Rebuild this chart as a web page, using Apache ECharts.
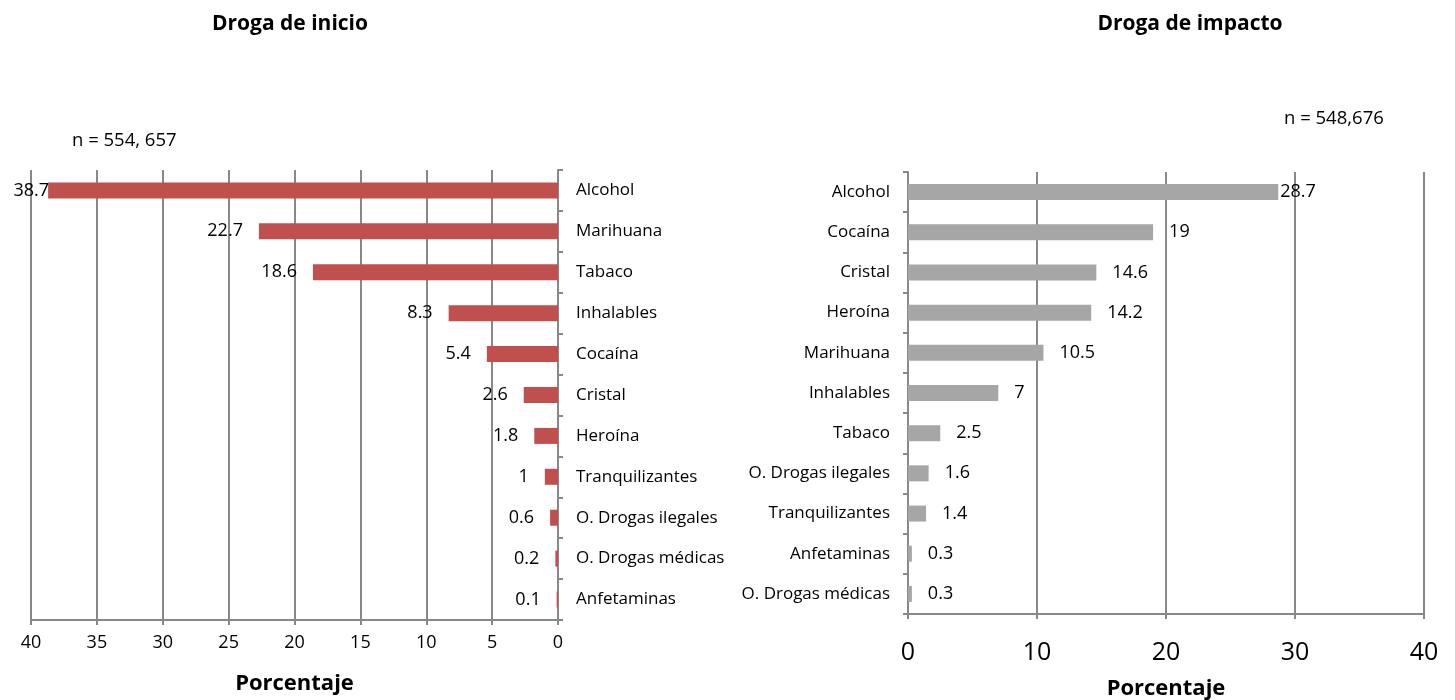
<!DOCTYPE html>
<html>
<head>
<meta charset="utf-8">
<script src="https://cdn.jsdelivr.net/npm/echarts@6/dist/echarts.min.js"></script>
<style>
html,body{margin:0;padding:0;background:#fff;}
#main{width:1455px;height:700px;}
</style>
</head>
<body>
<div id="main"></div>
<script>
const catsInicio = ['Alcohol','Marihuana','Tabaco','Inhalables','Cocaína','Cristal','Heroína','Tranquilizantes','O. Drogas ilegales','O. Drogas médicas','Anfetaminas'];
const valsInicio = [38.7, 22.7, 18.6, 8.3, 5.4, 2.6, 1.8, 1, 0.6, 0.2, 0.1];
const catsImpacto = ['Alcohol','Cocaína','Cristal','Heroína','Marihuana','Inhalables','Tabaco','O. Drogas ilegales','Tranquilizantes','Anfetaminas','O. Drogas médicas'];
const valsImpacto = [28.7, 19, 14.6, 14.2, 10.5, 7, 2.5, 1.6, 1.4, 0.3, 0.3];
const ticksInicio = [0, 5, 10, 15, 20, 25, 30, 35, 40];
const ticksImpacto = [0, 10, 20, 30, 40];
const titleInicio = 'Droga de inicio';
const titleImpacto = 'Droga de impacto';
const nInicio = 'n = 554, 657';
const nImpacto = 'n = 548,676';
const axisName = 'Porcentaje';

const FONT = '"Open Sans", "Noto Sans", sans-serif';
const AX = '#888888';
const chart = echarts.init(document.getElementById('main'));

const leftData = valsInicio.map((v, i) => i === 0 ? {value: v, label: {distance: -1}} : v);
const rightData = valsImpacto.map((v, i) => i === 0 ? {value: v, label: {distance: 2}} : v);

chart.setOption({
  animation: false,
  textStyle: {fontFamily: FONT},
  title: [
    {text: titleInicio, left: 285, top: 9, textAlign: 'center',
     textStyle: {fontFamily: FONT, fontSize: 21, fontWeight: 'bold', color: '#000'}},
    {text: titleImpacto, left: 1185, top: 9, textAlign: 'center',
     textStyle: {fontFamily: FONT, fontSize: 21, fontWeight: 'bold', color: '#000'}}
  ],
  graphic: [
    {type: 'text', left: 72, top: 131, style: {text: nInicio, font: '18.5px ' + FONT, fill: '#000'}},
    {type: 'text', left: 1284, top: 109, style: {text: nImpacto, font: '18.5px ' + FONT, fill: '#000'}}
  ],
  grid: [
    {left: 31, right: 1455 - 558, top: 170, height: 450, outerBoundsMode: 'none', containLabel: false},
    {left: 908, right: 1455 - 1424, top: 172, height: 442, outerBoundsMode: 'none', containLabel: false}
  ],
  xAxis: [
    {gridIndex: 0, type: 'value', inverse: true, min: 0, max: 40, interval: 5,
     axisLine: {show: true, lineStyle: {color: AX, width: 2}},
     axisTick: {show: true, length: 5, lineStyle: {color: AX, width: 2}},
     splitLine: {show: true, lineStyle: {color: AX, width: 2}},
     axisLabel: {fontSize: 18, color: '#000', margin: 14, fontFamily: FONT},
     name: axisName, nameLocation: 'middle', nameGap: 53,
     nameTextStyle: {fontSize: 22, fontWeight: 'bold', color: '#000', fontFamily: FONT}},
    {gridIndex: 1, type: 'value', min: 0, max: 40, interval: 10,
     axisLine: {show: true, lineStyle: {color: AX, width: 2}},
     axisTick: {show: true, length: 5, lineStyle: {color: AX, width: 2}},
     splitLine: {show: true, lineStyle: {color: AX, width: 2}},
     axisLabel: {fontSize: 25, color: '#000', margin: 26, fontFamily: FONT},
     name: axisName, nameLocation: 'middle', nameGap: 64,
     nameTextStyle: {fontSize: 22, fontWeight: 'bold', color: '#000', fontFamily: FONT}}
  ],
  yAxis: [
    {gridIndex: 0, type: 'category', data: catsInicio, inverse: true, position: 'right',
     axisLine: {show: true, lineStyle: {color: AX, width: 2}},
     axisTick: {show: true, length: 5, lineStyle: {color: AX, width: 2}},
     axisLabel: {fontSize: 17, color: '#000', margin: 18, fontFamily: FONT}},
    {gridIndex: 1, type: 'category', data: catsImpacto, inverse: true, position: 'left',
     axisLine: {show: true, lineStyle: {color: AX, width: 2}},
     axisTick: {show: true, length: 5, lineStyle: {color: AX, width: 2}},
     axisLabel: {fontSize: 17, color: '#000', margin: 18, fontFamily: FONT}}
  ],
  series: [
    {type: 'bar', xAxisIndex: 0, yAxisIndex: 0, data: leftData, barWidth: 16,
     itemStyle: {color: '#C0504D'},
     label: {show: true, position: 'left', distance: 16, fontSize: 18, color: '#000', fontFamily: FONT}},
    {type: 'bar', xAxisIndex: 1, yAxisIndex: 1, data: rightData, barWidth: 16,
     itemStyle: {color: '#A6A6A6'},
     label: {show: true, position: 'right', distance: 16, fontSize: 18, color: '#000', fontFamily: FONT}}
  ]
});
</script>
</body>
</html>
